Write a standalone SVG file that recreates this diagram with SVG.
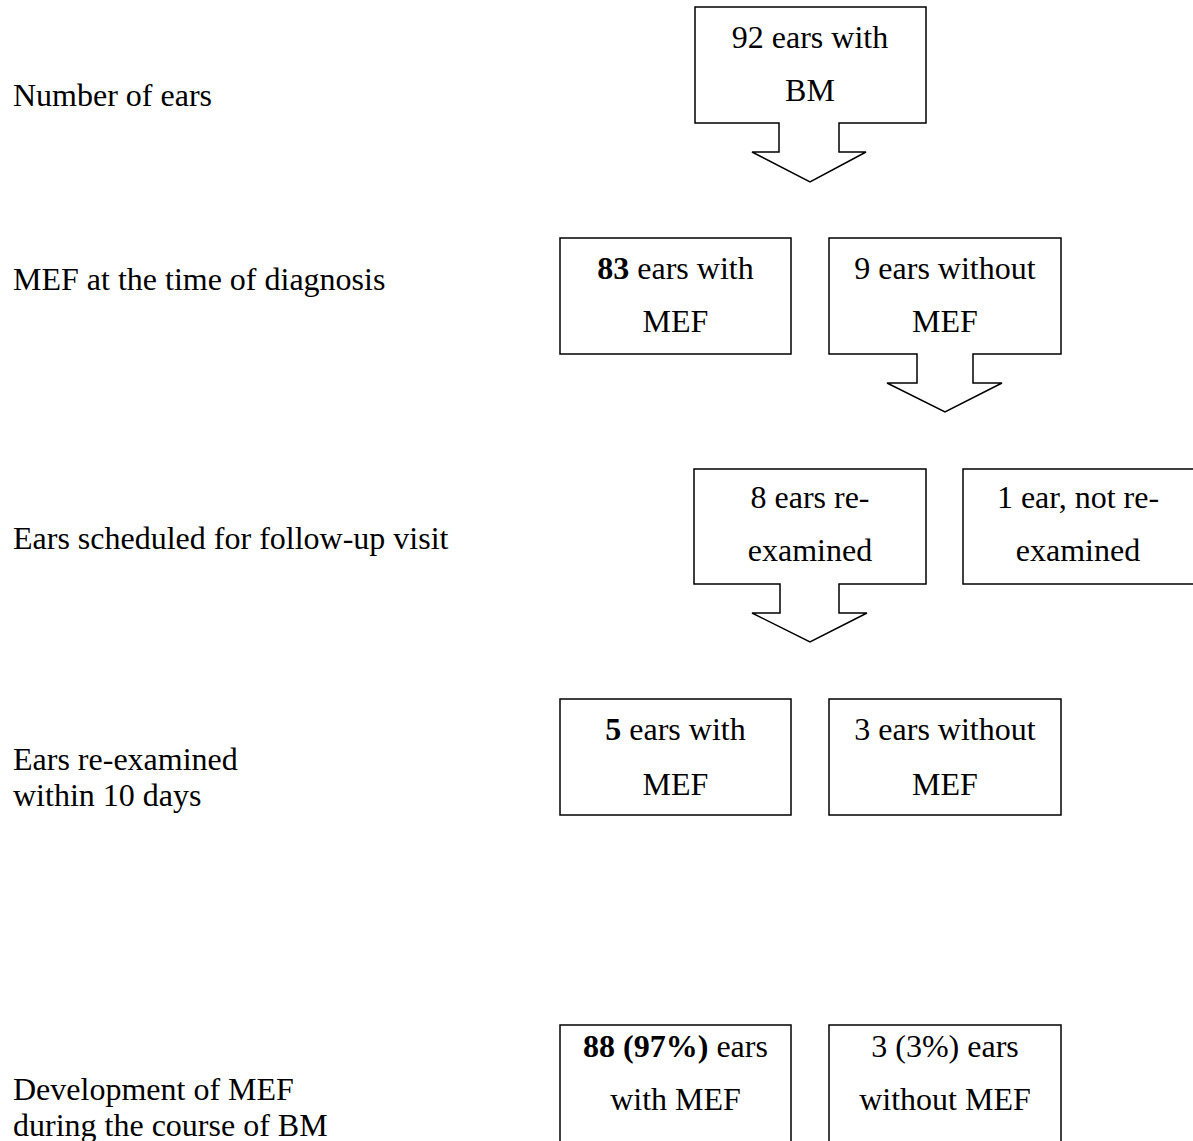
<svg xmlns="http://www.w3.org/2000/svg" width="1193" height="1141" viewBox="0 0 1193 1141">
<style>
text{font-family:"Liberation Serif","Times New Roman",serif;font-size:32px;fill:#000}
.c{text-anchor:middle}
.b{font-weight:bold}
.box{fill:#fff;stroke:#000;stroke-width:1.5}
</style>
<rect width="1193" height="1141" fill="#fff"/>
<g id="labels">
<text x="13" y="106">Number of ears</text>
<text x="13" y="290">MEF at the time of diagnosis</text>
<text x="13" y="549">Ears scheduled for follow-up visit</text>
<text x="13" y="770">Ears re-examined</text>
<text x="13" y="806">within 10 days</text>
<text x="13" y="1100">Development of MEF</text>
<text x="13" y="1136">during the course of BM</text>
</g>
<g id="connectors"></g>
<g id="n92">
<path class="box" d="M695,7 H926 V123 H839 V152 H866 L810,182 L752,152 H779 V123 H695 Z"/>
<text class="c" x="810" y="48">92 ears with</text>
<text class="c" x="810" y="101">BM</text>
</g>
<g id="n83">
<rect class="box" x="560" y="238" width="231" height="116"/>
<text class="c" x="675.5" y="279"><tspan class="b">83</tspan> ears with</text>
<text class="c" x="675.5" y="332">MEF</text>
</g>
<g id="n9">
<path class="box" d="M829,238 H1061 V354 H973 V383 H1002 L945,412 L887,383 H917 V354 H829 Z"/>
<text class="c" x="945" y="279">9 ears without</text>
<text class="c" x="945" y="332">MEF</text>
</g>
<g id="n8">
<path class="box" d="M694,469 H926 V584 H839 V613 H867 L810,642 L752,613 H780 V584 H694 Z"/>
<text class="c" x="810" y="508">8 ears re-</text>
<text class="c" x="810" y="561">examined</text>
</g>
<g id="n1">
<rect class="box" x="963" y="469" width="250" height="115"/>
<text class="c" x="1078" y="508">1 ear, not re-</text>
<text class="c" x="1078" y="561">examined</text>
</g>
<g id="n5">
<rect class="box" x="560" y="699" width="231" height="116"/>
<text class="c" x="675.5" y="740"><tspan class="b">5</tspan> ears with</text>
<text class="c" x="675.5" y="795">MEF</text>
</g>
<g id="n3">
<rect class="box" x="829" y="699" width="232" height="116"/>
<text class="c" x="945" y="740">3 ears without</text>
<text class="c" x="945" y="795">MEF</text>
</g>
<g id="n88">
<rect class="box" x="560" y="1025" width="231" height="140"/>
<text class="c" x="675.5" y="1057"><tspan class="b">88 (97%)</tspan> ears</text>
<text class="c" x="675.5" y="1110">with MEF</text>
</g>
<g id="n3b">
<rect class="box" x="829" y="1025" width="232" height="140"/>
<text class="c" x="945" y="1057">3 (3%) ears</text>
<text class="c" x="945" y="1110">without MEF</text>
</g>
</svg>
